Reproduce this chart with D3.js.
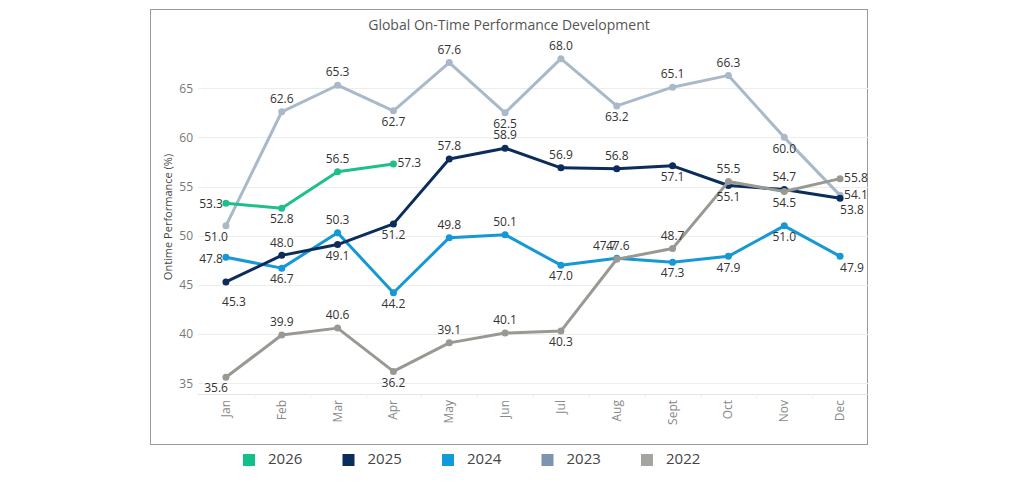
<!DOCTYPE html>
<html>
<head>
<meta charset="utf-8">
<script src="https://cdn.jsdelivr.net/npm/d3@7"></script>
<style>
  body { margin: 0; background: #fff; font-family: "Open Sans", "Noto Sans", sans-serif; }
</style>
</head>
<body>
<div id="chart"></div>
<script>
// Données
const months = ["Jan", "Feb", "Mar", "Apr", "May", "Jun", "Jul", "Aug", "Sept", "Oct", "Nov", "Dec"];
const years = ["2026", "2025", "2024", "2023", "2022"];
const yTicks = [35, 40, 45, 50, 55, 60, 65];

const values2026 = [53.3, 52.8, 56.5, 57.3];
const values2025 = [45.3, 48.0, 49.1, 51.2, 57.8, 58.9, 56.9, 56.8, 57.1, 55.1, 54.7, 53.8];
const values2024 = [47.8, 46.7, 50.3, 44.2, 49.8, 50.1, 47.0, 47.7, 47.3, 47.9, 51.0, 47.9];
const values2023 = [51.0, 62.6, 65.3, 62.7, 67.6, 62.5, 68.0, 63.2, 65.1, 66.3, 60.0, 54.1];
const values2022 = [35.6, 39.9, 40.6, 36.2, 39.1, 40.1, 40.3, 47.6, 48.7, 55.5, 54.5, 55.8];

// Couleurs et placement des étiquettes (a = dessus, b = dessous, l/r = côté)
const lineColors = { "2026": "#1fbf8c", "2025": "#0c2d5c", "2024": "#1598d4", "2023": "#a9b9c9", "2022": "#999994" };
const legendColors = { "2026": "#12c08c", "2025": "#0b2d5e", "2024": "#0f9bd8", "2023": "#7d94b0", "2022": "#a5a5a0" };
const labelPos = {
  "2026": ["l", "b", "a", "r"],
  "2025": ["B", "a", "b", "b", "a", "a", "a", "a", "b", "b", "a", "br"],
  "2024": ["l", "b", "a", "b", "a", "a", "b", "aL", "b", "b", "b", "br"],
  "2023": ["bl", "a", "a", "b", "a", "b", "a", "b", "a", "a", "b", "r"],
  "2022": ["bl", "a", "a", "b", "a", "a", "b", "aR", "a", "a", "b", "r"]
};

const series = [
  { year: "2023", values: values2023 },
  { year: "2024", values: values2024 },
  { year: "2025", values: values2025 },
  { year: "2022", values: values2022 },
  { year: "2026", values: values2026 }
];

const width = 1017, height = 500;
const plot = { left: 198, right: 868, top: 40, bottom: 394 };

const svg = d3.select("#chart")
  .append("svg")
  .attr("width", width)
  .attr("height", height);

// Cadre
svg.append("rect")
  .attr("x", 150.5).attr("y", 9.5)
  .attr("width", 717).attr("height", 435)
  .attr("fill", "none")
  .attr("stroke", "#9a9a9a");

svg.append("text")
  .attr("x", 509).attr("y", 30)
  .attr("text-anchor", "middle")
  .attr("font-size", 14)
  .attr("fill", "#555")
  .text("Global On-Time Performance Development");

const x = d3.scaleBand()
  .domain(months)
  .range([plot.left, plot.right]);

const y = d3.scaleLinear()
  .domain([33.9, 69.9])
  .range([plot.bottom, plot.top]);

// Grille horizontale
svg.append("g")
  .selectAll("line")
  .data(yTicks)
  .join("line")
  .attr("x1", plot.left).attr("x2", plot.right)
  .attr("y1", d => Math.round(y(d)) + 0.5).attr("y2", d => Math.round(y(d)) + 0.5)
  .attr("stroke", "#ededed");

// Axe Y
const yAxis = svg.append("g")
  .attr("transform", `translate(${plot.left},0)`)
  .call(d3.axisLeft(y).tickValues(yTicks).tickSize(0).tickPadding(5));
yAxis.select(".domain").remove();
yAxis.selectAll("text")
  .attr("font-size", 12)
  .attr("font-family", "Open Sans, sans-serif")
  .attr("fill", "#777");

svg.append("text")
  .attr("transform", `translate(172,${(plot.top + plot.bottom) / 2}) rotate(-90)`)
  .attr("text-anchor", "middle")
  .attr("font-size", 11)
  .attr("fill", "#444")
  .text("Ontime Performance (%)");

// Axe X
svg.append("line")
  .attr("x1", plot.left).attr("x2", plot.right)
  .attr("y1", plot.bottom + 0.5).attr("y2", plot.bottom + 0.5)
  .attr("stroke", "#e4e4e4");

const xAxis = svg.append("g")
  .attr("transform", `translate(0,${plot.bottom})`)
  .call(d3.axisBottom(x).tickSize(0).tickPadding(0));
xAxis.select(".domain").remove();
xAxis.selectAll("text")
  .attr("transform", "translate(4,6) rotate(-90)")
  .attr("text-anchor", "end")
  .attr("dy", 0)
  .attr("font-size", 12)
  .attr("font-family", "Open Sans, sans-serif")
  .attr("fill", "#888");

// Séparateurs de mois
svg.append("g")
  .selectAll("line")
  .data(months.slice(1))
  .join("line")
  .attr("x1", d => Math.round(x(d)) + 0.5).attr("x2", d => Math.round(x(d)) + 0.5)
  .attr("y1", plot.bottom).attr("y2", plot.bottom + 4)
  .attr("stroke", "#eeeeee");

// Lignes
const line = d3.line()
  .x((d, i) => x(months[i]) + x.bandwidth() / 2)
  .y(d => y(d));

const groups = svg.append("g")
  .selectAll("g")
  .data(series)
  .join("g");

groups.append("path")
  .attr("d", d => line(d.values))
  .attr("fill", "none")
  .attr("stroke", d => lineColors[d.year])
  .attr("stroke-width", 3)
  .attr("stroke-linejoin", "round");

groups.selectAll("circle")
  .data(d => d.values.map((v, i) => ({ v, i, year: d.year })))
  .join("circle")
  .attr("cx", d => x(months[d.i]) + x.bandwidth() / 2)
  .attr("cy", d => y(d.v))
  .attr("r", 3.5)
  .attr("fill", d => lineColors[d.year]);

// Étiquettes
const labels = series.flatMap(s => s.values.map((v, i) => ({ v, i, pos: labelPos[s.year][i] })));

svg.append("g")
  .selectAll("text")
  .data(labels)
  .join("text")
  .attr("x", d => {
    const cx = x(months[d.i]) + x.bandwidth() / 2;
    if (d.pos === "l") return cx - 3;
    if (d.pos === "r") return cx + 4;
    if (d.pos === "bl") return cx + 2;
    if (d.pos === "br") return cx;
    if (d.pos === "B") return cx + 8;
    if (d.pos === "aL") return cx - 12;
    if (d.pos === "aR") return cx + 1;
    return cx;
  })
  .attr("y", d => {
    const cy = y(d.v);
    if (d.pos === "a" || d.pos === "aL" || d.pos === "aR") return cy - 12;
    if (d.pos === "b" || d.pos === "bl" || d.pos === "br") return cy + 12;
    if (d.pos === "B") return cy + 21;
    if (d.pos === "l") return cy + 2;
    return cy;
  })
  .attr("text-anchor", d => (d.pos === "l" || d.pos === "bl") ? "end" : (d.pos === "r" || d.pos === "br") ? "start" : "middle")
  .attr("dominant-baseline", "middle")
  .attr("font-size", 12)
  .attr("fill", "#333")
  .text(d => d.v.toFixed(1));

// Légende
const legend = svg.append("g")
  .selectAll("g")
  .data(years)
  .join("g")
  .attr("transform", (d, i) => `translate(${243 + i * 99.5},454)`);

legend.append("rect")
  .attr("width", 12).attr("height", 12)
  .attr("fill", d => legendColors[d]);

legend.append("text")
  .attr("x", 25).attr("y", 6)
  .attr("dominant-baseline", "middle")
  .attr("font-size", 15)
  .attr("fill", "#444")
  .text(d => d);
</script>
</body>
</html>
